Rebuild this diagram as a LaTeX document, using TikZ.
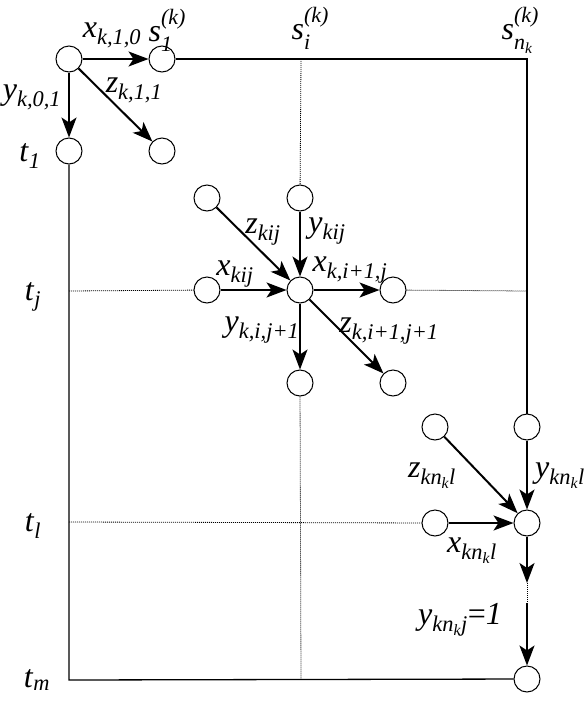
\documentclass[tikz,border=0pt]{standalone}
\usepackage{fontspec}
\setmainfont{Liberation Serif}
\usetikzlibrary{arrows.meta, positioning}
\newcommand{\vlab}[2]{\textit{#1}\textsubscript{\textit{#2}}}
\newcommand{\vlabs}[3]{\textit{#1}\rlap{\raisebox{-0.3em}{\fontsize{22}{22}\selectfont\textit{#2}}}\raisebox{0.55em}{\fontsize{22}{22}\selectfont\textit{#3}}}

\begin{document}
\begin{tikzpicture}[
        x=1pt, y=-1pt,
        vtx/.style={circle, draw, line width=1pt, minimum size=26pt, inner sep=0pt, fill=white},
        arr/.style={-{Stealth[length=20pt, width=15pt, inset=5pt]}, line width=2pt},
        frame/.style={line width=1.3pt},
        gridline/.style={line width=0.8pt, dash pattern=on 1pt off 1pt},
        lbl/.style={inner sep=0pt, font=\fontsize{32}{34}\selectfont}
    ]
    \useasboundingbox (0,0) rectangle (587,702);

    % corners of the frame and ends of the grid lines
    \coordinate (ne) at (527,59);
    \coordinate (sw) at (69,680);
    \coordinate (si_n) at (301,59);
    \coordinate (si_s) at (301,680);
    \coordinate (tj_w) at (69,291);
    \coordinate (tj_e) at (527,291);
    \coordinate (tl_w) at (69,522);

    % top left corner
    \node[vtx] (orig) at (69,59) {};
    \node[vtx] (s1) at (162,59) {};
    \node[vtx] (t1) at (69,151) {};
    \node[vtx] (d11) at (162,151) {};

    % inner vertex (i,j)
    \node[vtx] (c) at (300,290) {};
    \node[vtx] (c_w) at (207,290) {};
    \node[vtx] (c_e) at (393,290) {};
    \node[vtx] (c_n) at (300,198) {};
    \node[vtx] (c_nw) at (207,198) {};
    \node[vtx] (c_s) at (300,383) {};
    \node[vtx] (c_se) at (393,383) {};

    % last column
    \node[vtx] (r_n) at (527,427) {};
    \node[vtx] (r_nw) at (435,427) {};
    \node[vtx] (r_w) at (435,523) {};
    \node[vtx] (r) at (527,523) {};
    \node[vtx] (r_end) at (527,679) {};
    \coordinate (r_m1) at (527,583);
    \coordinate (r_m2) at (527,603);

    \draw[frame] (s1) -- (ne) -- (r_n);
    \draw[frame] (t1) -- (sw) -- (r_end);
    \draw[gridline] (si_n) -- (c_n);
    \draw[gridline] (c_s) -- (si_s);
    \draw[gridline] (tj_w) -- (c_w);
    \draw[gridline] (c_e) -- (tj_e);
    \draw[gridline] (tl_w) -- (r_w);

    \draw[arr] (orig) -- (s1);
    \draw[arr] (orig) -- (t1);
    \draw[arr] (orig) -- (d11);

    \draw[arr] (c_nw) -- (c);
    \draw[arr] (c_n) -- (c);
    \draw[arr] (c_w) -- (c);
    \draw[arr] (c) -- (c_e);
    \draw[arr] (c) -- (c_s);
    \draw[arr] (c) -- (c_se);

    \draw[arr] (r_nw) -- (r);
    \draw[arr] (r_n) -- (r);
    \draw[arr] (r_w) -- (r);
    \draw[arr] (r) -- (r_m1);
    \draw[gridline] (r_m1) -- (r_m2);
    \draw[arr] (r_m2) -- (r_end);

    % labels
    \node[lbl] (l_x10) at (112,35) {\vlab{x}{k,1,0}};
    \node[lbl] (l_s1) at (167,30) {\vlabs{s}{1}{(k)}};
    \node[lbl] (l_si) at (310,28) {\vlabs{s}{i}{(k)}};
    \node[lbl] (l_sn) at (520,30) {\vlabs{s}{n\textsubscript{k}}{(k)}};
    \node[lbl] (l_y01) at (32,97) {\vlab{y}{k,0,1}};
    \node[lbl] (l_z11) at (134,90) {\vlab{z}{k,1,1}};
    \node[lbl] (l_t1) at (30,156) {\vlab{t}{1}};
    \node[lbl] (l_tj) at (33,297) {\vlab{t}{j}};
    \node[lbl] (l_tl) at (33,526) {\vlab{t}{l}};
    \node[lbl] (l_tm) at (37,680) {\vlab{t}{m}};

    \node[lbl] (l_zij) at (263,232) {\vlab{z}{kij}};
    \node[lbl] (l_yij) at (327,231) {\vlab{y}{kij}};
    \node[lbl] (l_xij) at (235,274) {\vlab{x}{kij}};
    \node[lbl] (l_xi1) at (350,270) {\vlab{x}{k,i+1,j}};
    \node[lbl] (l_yj1) at (262,330) {\vlab{y}{k,i,j+1}};
    \node[lbl] (l_zi1) at (389,331) {\vlab{z}{k,i+1,j+1}};

    \node[lbl] (l_zn) at (432,476) {\vlab{z}{kn\textsubscript{k}l}};
    \node[lbl] (l_yn) at (560,476) {\vlab{y}{kn\textsubscript{k}l}};
    \node[lbl] (l_xn) at (472,551) {\vlab{x}{kn\textsubscript{k}l}};
    \node[lbl] (l_yend) at (460,620) {\vlab{y}{kn\textsubscript{k}j}=\textit{1}};
\end{tikzpicture}
\end{document}
